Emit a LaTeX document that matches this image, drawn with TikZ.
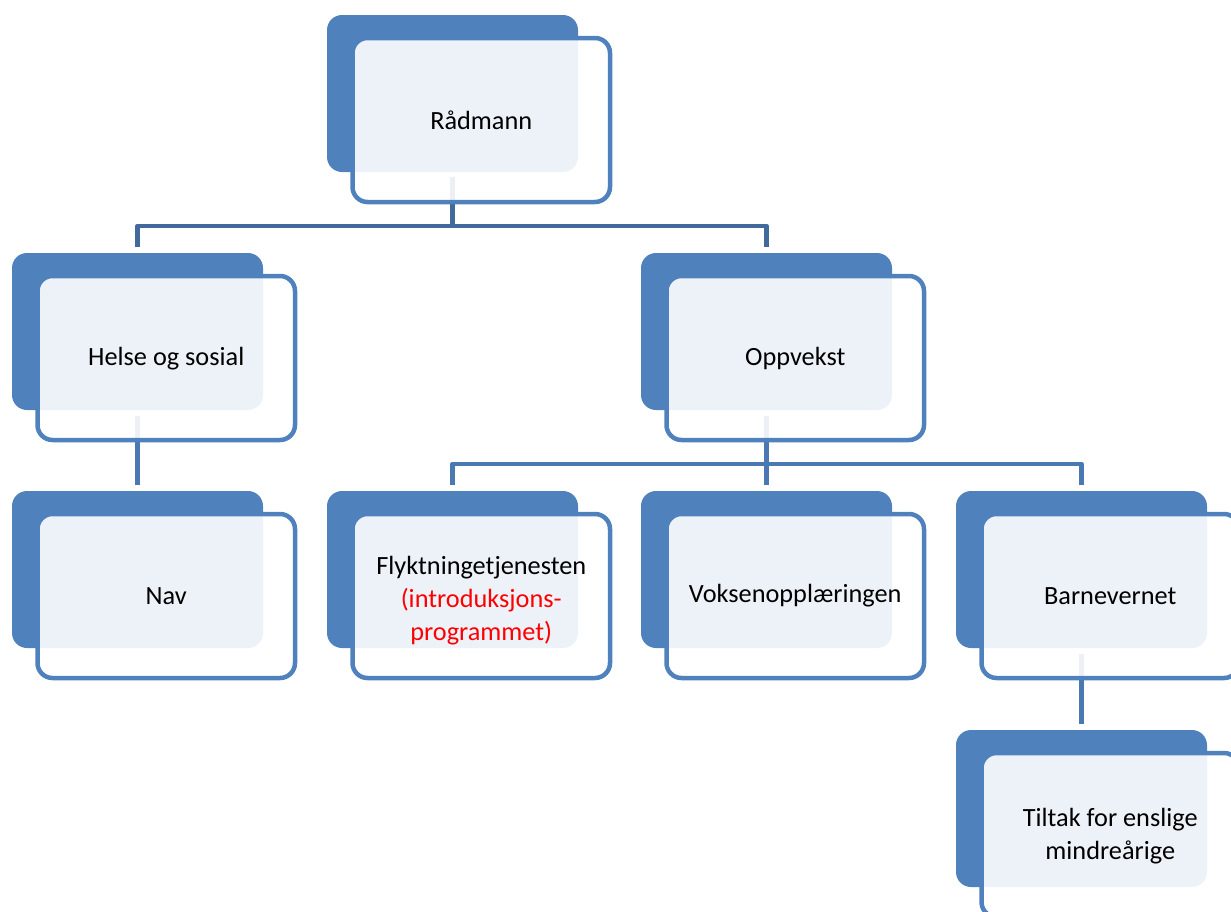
\documentclass[tikz,border=0pt]{standalone}
\usepackage{fontspec}
\setmainfont{Carlito}
\definecolor{accent}{HTML}{4F81BD}
\definecolor{connA}{HTML}{41699C}
\definecolor{connB}{HTML}{4A78B3}
\tikzset{
  backbox/.style={fill=accent, rounded corners=15pt, minimum width=251pt,
    minimum height=157pt, inner sep=0pt, outer sep=0pt, anchor=north west},
  frontbox/.style={draw=accent, line width=4.5pt, fill=white, fill opacity=0.9,
    text opacity=1, rounded corners=15pt, minimum width=257.5pt,
    minimum height=164pt, inner sep=0pt, outer sep=0pt, align=center,
    font=\fontsize{26.3}{33}\selectfont},
  connlineA/.style={draw=connA, line width=4.5pt, line join=round},
  connlineB/.style={draw=connB, line width=4.5pt, line join=round},
}
\newcommand\orgunit[5][0]{%
  \node[backbox] (#2B) at (#3,#4) {};
  \node[frontbox] (#2) at ({#3+154.25},{#4+105}) {};
  \node[align=center, font=\fontsize{26.3}{33}\selectfont, inner sep=0pt]
    (#2T) at ([yshift=-#1pt]#2.center) {#5};
}
\begin{document}
\begin{tikzpicture}[x=1pt,y=-1pt]
\useasboundingbox (0,0) rectangle (1231,911);
\clip (0,0) rectangle (1231,911);
% connectors (drawn first, shapes on top)
\coordinate (busA) at (452.5,226);
\coordinate (busB) at (766.5,464);
\coordinate (radBot) at (452.5,177);
\coordinate (helTop) at (137.5,247);
\coordinate (oppTop) at (766.5,247);
\coordinate (oppBot) at (766.5,416);
\coordinate (helBot) at (137.5,416);
\coordinate (navTop) at (137.5,485);
\coordinate (flyTop) at (452.5,485);
\coordinate (vokTop) at (766.5,485);
\coordinate (barTop) at (1081.5,485);
\coordinate (barBot) at (1081.5,654);
\coordinate (tilTop) at (1081.5,724);
\draw[connlineA] (radBot) -- (busA);
\draw[connlineA] (helTop) |- (busA) -| (oppTop);
\draw[connlineB] (helBot) -- (navTop);
\draw[connlineB] (oppBot) -- (busB);
\draw[connlineB] (flyTop) |- (busB) -| (barTop);
\draw[connlineB] (busB) -- (vokTop);
\draw[connlineB] (barBot) -- (tilTop);
% units
\orgunit{rad}{327}{15}{Rådmann}
\orgunit[1]{hel}{12}{253}{Helse og sosial}
\orgunit{opp}{641}{253}{Oppvekst}
\orgunit{nav}{12}{491}{Nav}
\orgunit[4.5]{fly}{327}{491}{Flyktningetjenesten\\\textcolor{red}{(introduksjons-}\\\textcolor{red}{programmet)}}
\orgunit{vok}{641}{491}{Voksenopplæringen}
\orgunit{bar}{956}{491}{Barnevernet}
\orgunit[1.5]{til}{956}{730}{Tiltak for enslige\\mindreårige}
\end{tikzpicture}
\end{document}
